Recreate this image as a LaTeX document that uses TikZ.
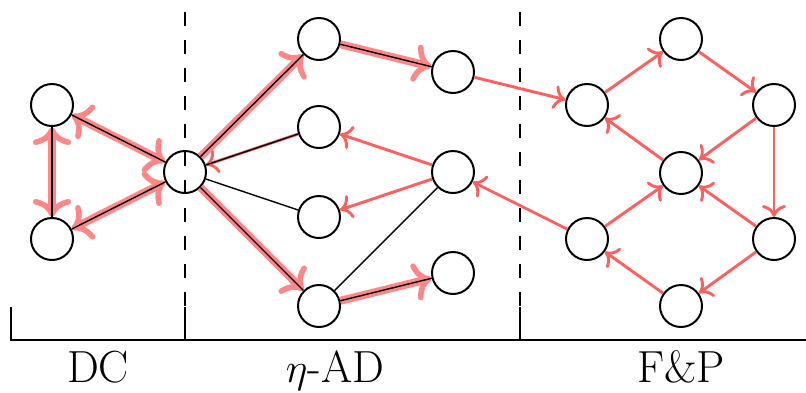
\documentclass[tikz,border=0pt]{standalone}
\usepackage{amsmath,amssymb}
\usepackage{tikz}
\usetikzlibrary{arrows.meta}
\usepackage{xcolor}
\definecolor{arcred}{RGB}{255,95,95}
\definecolor{hlred}{RGB}{255,135,135}

\begin{document}
\begin{tikzpicture}[x=0.5pt, y=-0.5pt,
  every node/.style={font=\fontsize{22.5}{27}\selectfont},
  vertex/.style={circle, draw, line width=1pt, minimum size=21pt, inner sep=0pt, fill=white},
  edge/.style={line width=0.7pt},
  arc/.style={draw=arcred, line width=1.45pt, -{To[length=6pt, width=12pt]}},
  hlband/.style={draw=hlred, line width=4pt},
  hltip/.tip={To[length=9pt, width=19pt, line width=2.8pt, line cap=round]},
  divider/.style={dash pattern=on 7pt off 7pt, line width=1pt},
  axisline/.style={line width=1pt},
  seclabel/.style={anchor=base, inner sep=0pt}
]
\useasboundingbox (0,0) rectangle (806,392);

%========== SECTION DC ==========
\node[vertex] (a1) at (52,105) {};
\node[vertex] (a2) at (52,239) {};
\node[vertex] (h)  at (185,172) {};

%========== SECTION eta-AD ==========
\node[vertex] (n1) at (319,39) {};
\node[vertex] (n2) at (319,127) {};
\node[vertex] (n3) at (319,217) {};
\node[vertex] (n4) at (319,306) {};
\node[vertex] (r1) at (453,72) {};
\node[vertex] (r2) at (453,172) {};
\node[vertex] (r3) at (453,273) {};

%========== SECTION F&P ==========
\node[vertex] (f1) at (587,105) {};
\node[vertex] (f2) at (681,39) {};
\node[vertex] (f3) at (774,105) {};
\node[vertex] (f4) at (681,173) {};
\node[vertex] (f5) at (587,239) {};
\node[vertex] (f6) at (774,239) {};
\node[vertex] (f7) at (681,306) {};

% highlighted path
\draw[hlband, hltip-hltip] (a1) -- (a2);
\draw[hlband, hltip-hltip] (a1) -- (h);
\draw[hlband, hltip-hltip] (a2) -- (h);
\draw[hlband, -hltip] (h) -- (n1);
\draw[hlband, -hltip] (h) -- (n4);
\draw[hlband, -hltip] (n1) -- (r1);
\draw[hlband, -hltip] (n4) -- (r3);

% directed arcs
\draw[arc] (n2) -- (h);
\draw[arc] (r2) -- (n2);
\draw[arc] (r2) -- (n3);
\draw[arc] (r1) -- (f1);
\draw[arc] (f5) -- (r2);
\draw[arc] (f1) -- (f2);
\draw[arc] (f2) -- (f3);
\draw[arc] (f3) -- (f4);
\draw[arc] (f3) -- (f6);
\draw[arc] (f4) -- (f1);
\draw[arc] (f5) -- (f4);
\draw[arc] (f6) -- (f4);
\draw[arc] (f6) -- (f7);
\draw[arc] (f7) -- (f5);

% undirected edges
\draw[edge] (a1) -- (a2);
\draw[edge] (a1) -- (h);
\draw[edge] (a2) -- (h);
\draw[edge] (h) -- (n1);
\draw[edge] (h) -- (n2);
\draw[edge] (h) -- (n3);
\draw[edge] (h) -- (n4);
\draw[edge] (n1) -- (r1);
\draw[edge] (n4) -- (r2);
\draw[edge] (n4) -- (r3);

% dividers and axis
\coordinate (ax0) at (11,340);
\coordinate (ax1) at (806,340);
\coordinate (t0)  at (11,307);
\coordinate (d1)  at (185,12);
\coordinate (d1b) at (185,307);
\coordinate (d1c) at (185,340);
\coordinate (d2)  at (520,12);
\coordinate (d2b) at (520,307);
\coordinate (d2c) at (520,340);

\draw[divider] (d1) -- (d1b);
\draw[divider] (d2) -- (d2b);
\draw[axisline] (t0) -- (ax0) -- (ax1);
\draw[axisline] (d1b) -- (d1c);
\draw[axisline] (d2b) -- (d2c);

\node[seclabel] (labdc) at (98,382) {DC};
\node[seclabel] (labad) at (335,382) {$\eta$-AD};
\node[seclabel] (labfp) at (681,382) {F\&P};
\end{tikzpicture}
\end{document}
